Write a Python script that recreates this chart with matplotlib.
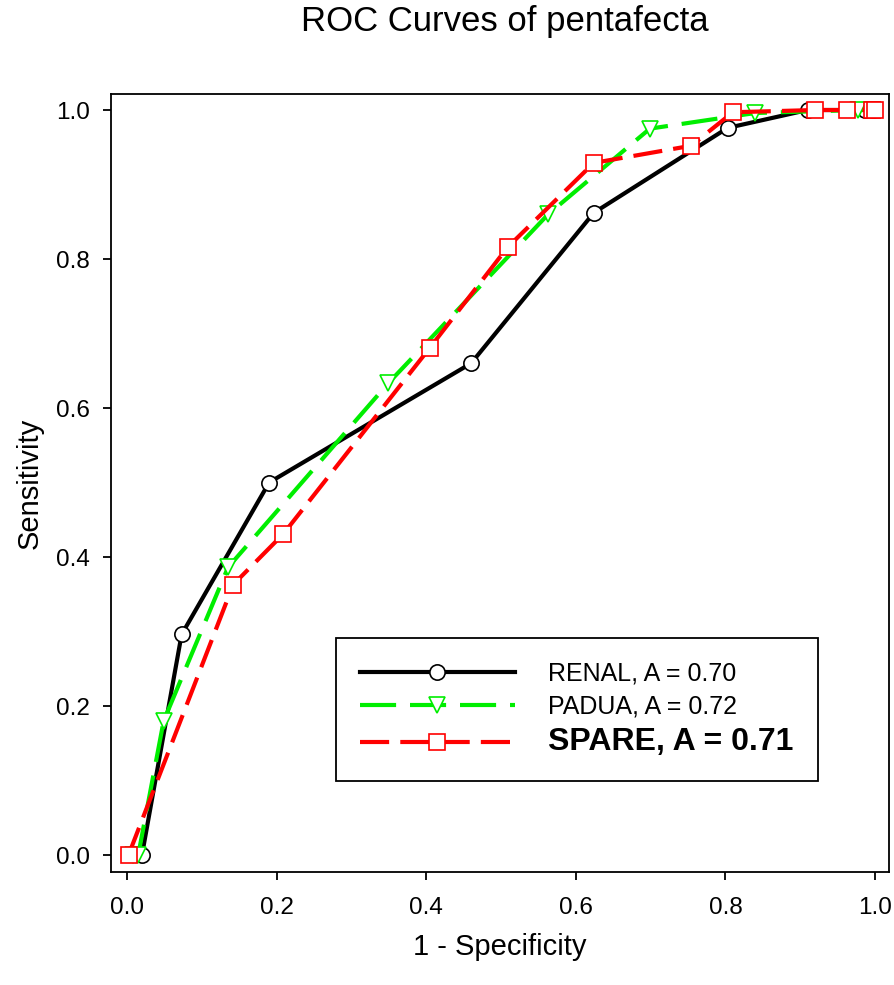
import numpy as np
import matplotlib
matplotlib.use("Agg")
import matplotlib.pyplot as plt

plt.rcParams['font.family'] = ['Liberation Sans', 'DejaVu Sans']
plt.rcParams['lines.scale_dashes'] = False

# ROC points
renal_x = [0.020, 0.073, 0.190, 0.460, 0.624, 0.803, 0.910, 0.987, 0.997]
renal_y = [0.000, 0.296, 0.500, 0.660, 0.862, 0.976, 1.000, 1.000, 1.000]

padua_x = [0.008, 0.015, 0.049, 0.135, 0.349, 0.563, 0.699, 0.840, 0.977, 0.996]
padua_y = [0.000, 0.000, 0.180, 0.386, 0.633, 0.860, 0.975, 0.996, 1.000, 1.000]

spare_x = [0.002, 0.142, 0.209, 0.405, 0.509, 0.624, 0.754, 0.810, 0.920, 0.963, 0.996, 1.000]
spare_y = [0.000, 0.363, 0.431, 0.681, 0.816, 0.929, 0.952, 0.997, 1.000, 1.000, 1.000, 1.000]

labels = ["RENAL, A = 0.70", "PADUA, A = 0.72", "SPARE, A = 0.71"]
ticks = [0.0, 0.2, 0.4, 0.6, 0.8, 1.0]

W, H = 894, 985
fig = plt.figure(figsize=(W / 100, H / 100), dpi=100)
ax = fig.add_axes([111 / W, 1 - 872 / H, (889 - 111) / W, (872 - 94) / H])

ax.plot(renal_x, renal_y, color="black", lw=3, marker="o", ms=11,
        mfc="white", mec="black", mew=1.2, label=labels[0], zorder=3)
ax.plot(padua_x, padua_y, color="#00ee00", lw=3, dashes=(26, 10), marker="v", ms=11,
        mfc="white", mec="#00ee00", mew=1.2, label=labels[1], zorder=4)
ax.plot(spare_x, spare_y, color="#ff0000", lw=3, dashes=(21, 8), marker="s", ms=11,
        mfc="white", mec="#ff0000", mew=1.2, label=labels[2], zorder=5)

ax.set_xlim(-0.0214, 1.0187)
ax.set_ylim(-0.0228, 1.0215)
ax.set_xticks(ticks)
ax.set_yticks(ticks)
ax.set_xticklabels([f"{t:.1f}" for t in ticks])
ax.set_yticklabels([f"{t:.1f}" for t in ticks])
ax.tick_params(direction="out", length=6, width=1.3, labelsize=17.5)
ax.tick_params(axis="x", pad=12)
ax.tick_params(axis="y", pad=9)
for s in ax.spines.values():
    s.set_linewidth(1.3)

ax.set_xlabel("1 - Specificity", fontsize=21, labelpad=10)
ax.set_ylabel("Sensitivity", fontsize=21, labelpad=9)
fig.text(505 / W, 1 - 22 / H, "ROC Curves of pentafecta", fontsize=25,
         ha="center", va="center")

leg = ax.legend(loc="upper left", bbox_to_anchor=(336 / W, 1 - 638 / H),
                bbox_transform=fig.transFigure, fancybox=False, framealpha=1,
                edgecolor="black", fontsize=18, handlelength=6.2,
                handletextpad=1.35, borderpad=0.95, labelspacing=0.35,
                borderaxespad=0)
leg.get_frame().set_linewidth(1.3)
leg.texts[2].set_fontsize(23)
leg.texts[2].set_fontweight("bold")

fig.savefig("out.png", dpi=100)
